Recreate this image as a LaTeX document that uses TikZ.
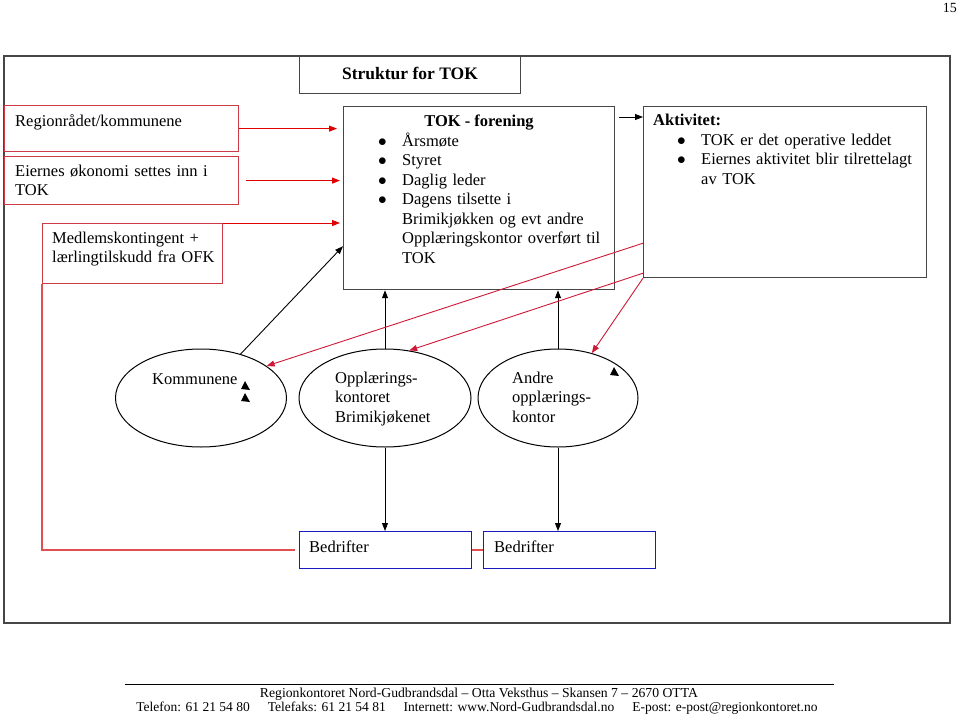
\documentclass[tikz,border=0pt]{standalone}
\usepackage{fontspec}
\setmainfont{Liberation Serif}
\usetikzlibrary{shapes.geometric,arrows.meta}

\definecolor{boxred}{RGB}{205,60,70}
\definecolor{arrred}{RGB}{225,0,0}
\definecolor{linered}{RGB}{205,25,55}
\definecolor{leftred}{RGB}{225,80,80}
\definecolor{bedblue}{RGB}{25,25,190}
\definecolor{framegray}{RGB}{70,70,70}

\newcommand{\bitem}[1]{\makebox[24pt][l]{$\bullet$}#1}
\newcommand{\bcont}[1]{\hspace*{24pt}#1}

\tikzset{redbox/.style = {draw = boxred,
                          line width = 1.2pt,
                          anchor = north west,
                          inner sep = 0pt},
         blackbox/.style = {draw = framegray,
                            line width = 1.2pt,
                            anchor = north west,
                            inner sep = 0pt,
                            fill = white},
         bluebox/.style = {draw = bedblue,
                           line width = 1.2pt,
                           anchor = north west,
                           inner sep = 0pt},
         ovalnode/.style = {shape = ellipse,
                            draw,
                            line width = 1pt,
                            inner sep = 0pt,
                            minimum height = 98pt},
         txt/.style = {inner sep = 0pt,
                       anchor = base west,
                       align = left},
         blackarrow/.style = {draw, line width = 0.9pt,
                              -{Triangle[length=8pt,width=6pt]}},
         redarrow/.style = {draw = arrred, line width = 1pt,
                            -{Triangle[length=8pt,width=6pt]}},
         redline/.style = {draw = linered, line width = 0.9pt,
                           -{Triangle[length=8pt,width=6pt]}}}

\begin{document}
\begin{tikzpicture}[x = 1pt, y = -1pt,
                    every node/.style = {font = \fontsize{16.5}{19.5}\selectfont}]
		\useasboundingbox (0,0) rectangle (959,718);
		% page number and outer frame
		\node[txt, anchor = base east, font = \fontsize{14}{16}\selectfont] (page) at (957,12) {15};
		\draw[framegray, line width = 1.3pt] (4,56) rectangle (950,623);
		\node[blackbox, minimum width = 221pt, minimum height = 37pt] (title) at (299,56) {};
		\node[txt, anchor = base, font = \fontsize{17.5}{20}\selectfont\bfseries] (titletxt) at (410,79) {Struktur for TOK};
		% owner boxes
		\node[redbox, minimum width = 234pt, minimum height = 46pt] (reg) at (4,105) {};
		\node[redbox, minimum width = 234pt, minimum height = 48pt] (eier) at (4,156) {};
		\node[redbox, minimum width = 180pt, minimum height = 60pt] (medl) at (42,223) {};
		\node[txt] (regtxt) at (15,126) {Regionrådet/kommunene};
		\node[txt, text width = 220pt, font = \fontsize{16.5}{19}\selectfont] (eiertxt) at (15,176) {Eiernes økonomi settes inn i\\TOK};
		\node[txt, text width = 170pt, font = \fontsize{16.5}{19}\selectfont] (medltxt) at (52,243) {Medlemskontingent +\\lærlingtilskudd fra OFK};
		% TOK and activity
		\node[blackbox, minimum width = 271pt, minimum height = 183pt] (tok) at (343,106) {};
		\node[blackbox, minimum width = 283pt, minimum height = 171pt] (akt) at (643,106) {};
		\node[txt, anchor = base, font = \fontsize{16.5}{19.5}\selectfont\bfseries] (tokhead) at (479,126) {TOK - forening};
		\node[txt, text width = 230pt] (toktxt) at (378,146) {\bitem{Årsmøte}\\\bitem{Styret}\\\bitem{Daglig leder}\\\bitem{Dagens tilsette i}\\\bcont{Brimikjøkken og evt andre}\\\bcont{Opplæringskontor overført til}\\\bcont{TOK}};
		\node[txt, font = \fontsize{16.5}{19.5}\selectfont\bfseries] (akthead) at (653,125) {Aktivitet:};
		\node[txt, text width = 240pt] (akttxt) at (677,145) {\bitem{TOK er det operative leddet}\\\bitem{Eiernes aktivitet blir tilrettelagt}\\\bcont{av TOK}};
		% members
		\node[ovalnode, minimum width = 171pt] (komm) at (201,398) {};
		\node[ovalnode, minimum width = 172pt] (opp) at (385,398) {};
		\node[ovalnode, minimum width = 160pt] (andre) at (558,398) {};
		\node[txt] (kommtxt) at (152,384) {Kommunene};
		\node[txt, text width = 110pt] (opptxt) at (335,383) {Opplærings-\\kontoret\\Brimikjøkenet};
		\node[txt, text width = 110pt] (andretxt) at (512,383) {Andre\\opplærings-\\kontor};
		\node[bluebox, minimum width = 172pt, minimum height = 37pt] (bed1) at (299,531) {};
		\node[bluebox, minimum width = 172pt, minimum height = 37pt] (bed2) at (483,531) {};
		\node[txt] (bed1txt) at (309,552) {Bedrifter};
		\node[txt] (bed2txt) at (494,552) {Bedrifter};
		% connectors
		\path[redarrow, shorten >= 6pt] (reg.east) -- (reg.east -| tok.west);
		\path[redarrow, shorten >= 3pt] ([xshift = 7pt]eier.east) -- (eier.east -| tok.west);
		\path[redarrow, shorten >= 3pt] (medl.north east) -- (medl.north east -| tok.west);
		\path[blackarrow] (komm.48) -- ([yshift = 44pt]tok.south west);
		\path[blackarrow] (opp.north) -- (opp.north |- tok.south);
		\path[blackarrow] (andre.north) -- (andre.north |- tok.south);
		\path[blackarrow] (opp.south) -- (opp.south |- bed1.north);
		\path[blackarrow] (andre.south) -- (andre.south |- bed2.north);
		\path[blackarrow, shorten <= 4pt] ([yshift = -11pt]tok.north east) -- ([yshift = -11pt]akt.north west);
		\path[redline] ([yshift = 35pt]akt.south west) -- (komm.26);
		\path[redline] ([yshift = 5pt]akt.south west) -- (opp.63);
		\path[redline] (akt.south west) -- (andre.53);
		\draw[leftred, line width = 1.8pt, shorten >= 4pt] (medl.south west) |- (bed1.west);
		\draw[leftred, line width = 1.8pt] (bed1.east) -- (bed2.west);
		% loose arrow tips
		\fill (245,381) -- (250,390) -- (241,389) -- cycle;
		\fill (245,393) -- (250,402) -- (241,401) -- cycle;
		\fill (614,367) -- (619,376) -- (610,375) -- cycle;
		% footer
		\draw[line width = 0.8pt] (125,684) -- (834,684);
		\node[txt, anchor = base, font = \fontsize{13.7}{16}\selectfont] (foot1) at (479,697) {Regionkontoret Nord-Gudbrandsdal – Otta Veksthus – Skansen 7 – 2670 OTTA};
		\node[txt, anchor = base, font = \fontsize{13.5}{16}\selectfont] (foot2) at (477,711) {Telefon: 61 21 54 80\hspace{18pt}Telefaks: 61 21 54 81\hspace{18pt}Internett: www.Nord-Gudbrandsdal.no\hspace{18pt}E-post: e-post@regionkontoret.no};
	\end{tikzpicture}
\end{document}
